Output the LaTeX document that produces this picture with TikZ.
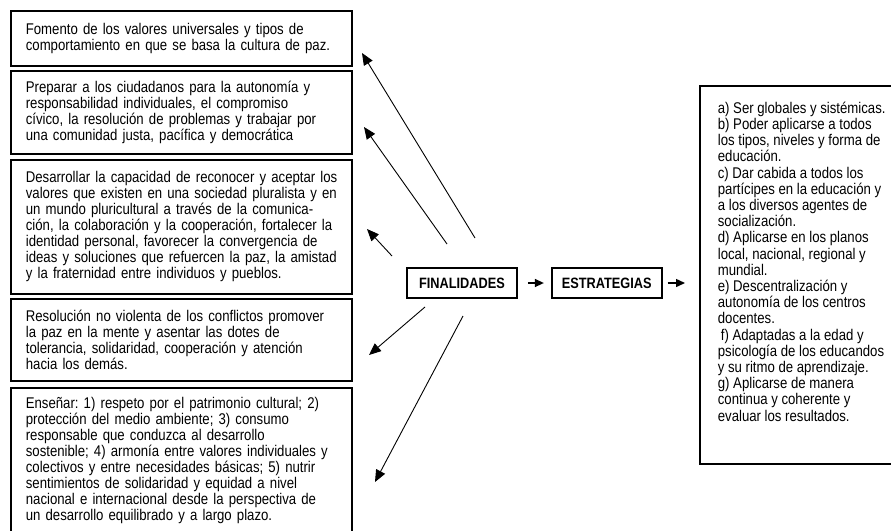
\documentclass[tikz,border=0pt]{standalone}
\usepackage{fontspec}
\setmainfont{Liberation Sans}[FakeStretch=0.85]
\frenchspacing
\usetikzlibrary{positioning,
                arrows.meta}                % arrow tips

\begin{document}
\begin{tikzpicture}[x=1pt, y=-1pt,
    every node/.style={font=\fontsize{15.5}{16}\selectfont},
    finbox/.style={draw, line width=1.7pt, anchor=north west, text width=341pt,
                   inner xsep=0pt, align=left,
                   execute at begin node={\leftskip=15pt\relax}},
    keybox/.style={draw, line width=1.7pt, font=\bfseries\fontsize{15}{16}\selectfont,
                   minimum width=110pt, minimum height=30pt, inner sep=2pt},
    longarr/.style={-{Triangle[length=12pt,width=10pt]}, line width=0.9pt},
    shortarr/.style={-{Triangle[length=9pt,width=8pt]}, line width=1.4pt}]
    \useasboundingbox (0,0) rectangle (891,530);

    % finalidades
    \node[finbox, minimum height=55pt] (fin1) at (10,10)
        {Fomento de los valores universales y tipos de\\
         comportamiento en que se basa la cultura de paz.};
    \node[finbox, minimum height=83pt] (fin2) at (10,70)
        {Preparar a los ciudadanos para la autonomía y\\
         responsabilidad individuales, el compromiso\\
         cívico, la resolución de problemas y trabajar por\\
         una comunidad justa, pacífica y democrática};
    \node[finbox, minimum height=134pt] (fin3) at (10,159)
        {Desarrollar la capacidad de reconocer y aceptar los\\
         valores que existen en una sociedad pluralista y en\\
         un mundo pluricultural a través de la comunica-\\
         ción, la colaboración y la cooperación, fortalecer la\\
         identidad personal, favorecer la convergencia de\\
         ideas y soluciones que refuercen la paz, la amistad\\
         y la fraternidad entre individuos y pueblos.};
    \node[finbox, minimum height=82pt] (fin4) at (10,298)
        {Resolución no violenta de los conflictos promover\\
         la paz en la mente y asentar las dotes de\\
         tolerancia, solidaridad, cooperación y atención\\
         hacia los demás.};
    \node[finbox, minimum height=146pt] (fin5) at (10,387)
        {Enseñar: 1) respeto por el patrimonio cultural; 2)\\
         protección del medio ambiente; 3) consumo\\
         responsable que conduzca al desarrollo\\
         sostenible; 4) armonía entre valores individuales y\\
         colectivos y entre necesidades básicas; 5) nutrir\\
         sentimientos de solidaridad y equidad a nivel\\
         nacional e internacional desde la perspectiva de\\
         un desarrollo equilibrado y a largo plazo.};

    % centre
    \node[keybox] (fin) at (462,283) {FINALIDADES};
    \node[keybox, right=33pt of fin] (estr) {ESTRATEGIAS};

    % estrategias
    \node[draw, line width=1.7pt, anchor=north west, inner xsep=18pt, inner ysep=16pt,
          font=\fontsize{15.5}{16.2}\selectfont] (lista) at (699,85)
        {\parbox[t][346pt][t]{200pt}{\raggedright
         a) Ser globales y sistémicas.\\
         b) Poder aplicarse a todos\\
         los tipos, niveles y forma de\\
         educación.\\
         c) Dar cabida a todos los\\
         partícipes en la educación y\\
         a los diversos agentes de\\
         socialización.\\
         d) Aplicarse en los planos\\
         local, nacional, regional y\\
         mundial.\\
         e) Descentralización y\\
         autonomía de los centros\\
         docentes.\\
         \hspace*{3pt}f) Adaptadas a la edad y\\
         psicología de los educandos\\
         y su ritmo de aprendizaje.\\
         g) Aplicarse de manera\\
         continua y coherente y\\
         evaluar los resultados.}};

    \draw[shortarr, shorten <=10pt, shorten >=7pt] (fin) -- (estr);
    \draw[shortarr, shorten <=5pt, shorten >=14pt] (estr.east) -- (estr.east -| lista.west);

    \foreach \i/\sx/\sy/\ex/\ey in {1/475/238/362/53, 2/447/244/364/127, 3/392/256/367/229,
                                    4/425/307/369/355, 5/463/316/375/482}
    {
        \coordinate (from\i) at (\sx,\sy);
        \coordinate (to\i) at (\ex,\ey);
        \draw[longarr] (from\i) -- (to\i);
    }
\end{tikzpicture}
\end{document}
